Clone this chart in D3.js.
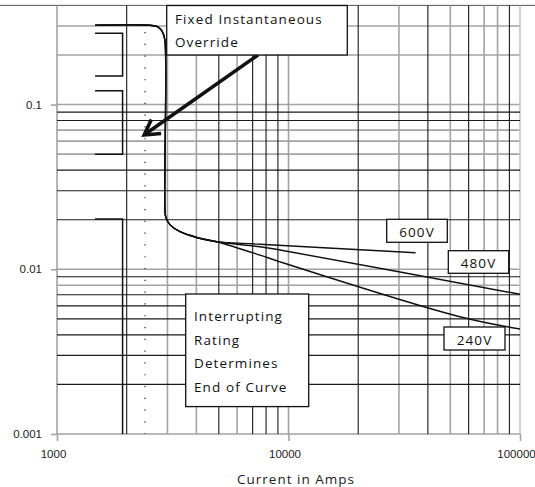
<!DOCTYPE html>
<html lang="en">
<head>
<meta charset="UTF-8" />
<script src="https://d3js.org/d3.v7.min.js"></script>
<title>Time-current curve</title>
<style>
  body { margin: 0; background: #fff; }
  svg { display: block; font-family: 'Open Sans', sans-serif; }
</style>
</head>
<body>
<svg width="535" height="487"></svg>
<script>
// ---- values ----
const xTicks = [1000, 10000, 100000];
const yTicks = [0.001, 0.01, 0.1];
const xGrid = [1000, 2000, 3000, 4000, 5000, 6000, 7000, 8000, 9000,
               10000, 20000, 30000, 40000, 50000, 60000, 70000, 80000, 90000, 100000];
const yGrid = [0.001, 0.002, 0.003, 0.004, 0.005, 0.006, 0.007, 0.008, 0.009,
               0.01, 0.02, 0.03, 0.04, 0.05, 0.06, 0.07, 0.08, 0.09, 0.1, 0.2, 0.3];

// shared part of the curve (amps, seconds)
const commonAmps = [1460, 2520, 2730, 2870, 2930, 2930, 2960, 3080, 3400, 4010, 4900];
const commonTime = [0.303, 0.303, 0.296, 0.272, 0.24, 0.022, 0.0205, 0.0186, 0.0169, 0.0156, 0.0147];

// voltage tails
const voltages = ['600V', '480V', '240V'];
const tailAmps = [
  [4900, 7530, 35400],
  [4900, 7530, 9190, 100000],
  [4900, 7530, 9190, 55000, 100000]
];
const tailTime = [
  [0.0147, 0.0142, 0.0126],
  [0.0147, 0.0137, 0.0131, 0.00705],
  [0.0147, 0.0122, 0.0111, 0.00515, 0.00434]
];

// tolerance brackets on the left
const bracketAmps = [1460, 1920];
const bracketTop = [0.271, 0.1215, 0.0202];
const bracketBottom = [0.149, 0.05, 0.001];

// dotted reference line
const dottedAmps = 2400;
const dottedTime = [0.276, 0.001];

// arrow (from, to) in amps / seconds
const arrowAmps = [7380, 2380];
const arrowTime = [0.2, 0.0654];

// ---- drawing ----
const svg = d3.select('svg');
const W = +svg.attr('width');

const x = d3.scaleLog().domain([1000, 100000]).range([57, 520]);
const y = d3.scaleLog().domain([0.001, 0.4]).range([434, 5.4]);

const greyX = new Set([1000, 3000, 4000, 6000, 10000, 30000, 50000, 70000, 80000, 100000]);
const greyY = new Set([0.001, 0.008, 0.01, 0.05, 0.06, 0.07, 0.1, 0.2, 0.3]);

// top border line
svg.append('line')
  .attr('x1', 0).attr('x2', W)
  .attr('y1', y(0.4)).attr('y2', y(0.4))
  .attr('stroke', '#555').attr('stroke-width', 1);

const grid = svg.append('g');
// grey grid first, dark grid over it
grid.selectAll('.gy')
  .data(yGrid.filter(d => greyY.has(d)))
  .join('line')
  .attr('x1', x(1000)).attr('x2', x(100000))
  .attr('y1', d => y(d)).attr('y2', d => y(d))
  .attr('stroke', '#a3a3a3').attr('stroke-width', 1.6);
grid.selectAll('.gx')
  .data(xGrid.filter(d => greyX.has(d)))
  .join('line')
  .attr('x1', d => x(d)).attr('x2', d => x(d))
  .attr('y1', y(0.4)).attr('y2', y(0.001))
  .attr('stroke', d => d === 100000 ? '#c4c4c4' : '#a3a3a3').attr('stroke-width', 1.6);

const dark = svg.append('g');
dark.selectAll('line.hy')
  .data(yGrid.filter(d => !greyY.has(d)))
  .join('line')
  .attr('class', 'hy')
  .attr('x1', x(1000)).attr('x2', x(100000))
  .attr('y1', d => y(d)).attr('y2', d => y(d))
  .attr('stroke', '#1a1a1a').attr('stroke-width', 1.1);
dark.selectAll('line.vx')
  .data(xGrid.filter(d => !greyX.has(d)))
  .join('line')
  .attr('class', 'vx')
  .attr('x1', d => x(d)).attr('x2', d => x(d))
  .attr('y1', y(0.4)).attr('y2', y(0.001))
  .attr('stroke', '#1a1a1a').attr('stroke-width', 1.1);

// axes
const yAxis = svg.append('g')
  .attr('transform', `translate(${x(1000)},0)`)
  .call(d3.axisLeft(y).tickValues(yTicks).tickFormat(d => String(d)).tickSize(6).tickPadding(9));
const xAxis = svg.append('g')
  .attr('transform', `translate(0,${y(0.001)})`)
  .call(d3.axisBottom(x).tickValues(xTicks).tickFormat(d => String(d)).tickSize(7).tickPadding(9));
[yAxis, xAxis].forEach(a => {
  a.select('.domain').remove();
  a.selectAll('line').attr('stroke', '#a3a3a3').attr('stroke-width', 1.6);
  a.selectAll('text').attr('font-size', 11.5).attr('fill', '#222');
});
xAxis.selectAll('text').attr('dx', -4);

svg.append('text')
  .attr('x', 296).attr('y', 484)
  .attr('text-anchor', 'middle')
  .attr('font-size', 13.5).attr('letter-spacing', 1)
  .attr('fill', '#222')
  .text('Current in Amps');

// brackets
const br = svg.append('g');
bracketTop.forEach((t, i) => {
  const x0 = x(bracketAmps[0]), x1 = x(bracketAmps[1]);
  let p = `M${x0},${y(t)}H${x1}V${y(bracketBottom[i])}`;
  if (bracketBottom[i] > 0.001) p += `H${x0}`;
  br.append('path').attr('d', p)
    .attr('fill', 'none').attr('stroke', '#111').attr('stroke-width', 1.5);
});

// dotted line
svg.append('line')
  .attr('x1', x(dottedAmps)).attr('x2', x(dottedAmps))
  .attr('y1', y(dottedTime[0])).attr('y2', y(dottedTime[1]))
  .attr('stroke', '#222').attr('stroke-width', 1.2)
  .attr('stroke-dasharray', '1.2,10.6');

// curves
const line = d3.line()
  .x(d => x(d[0])).y(d => y(d[1]))
  .curve(d3.curveCatmullRom.alpha(0.5));
voltages.forEach((v, i) => {
  const pts = commonAmps.map((a, j) => [a, commonTime[j]])
    .concat(tailAmps[i].slice(1).map((a, j) => [a, tailTime[i][j + 1]]));
  svg.append('path')
    .datum(pts)
    .attr('d', line)
    .attr('fill', 'none')
    .attr('stroke', '#111')
    .attr('stroke-width', 1.4);
});

// arrow
const ax0 = x(arrowAmps[0]), ay0 = y(arrowTime[0]);
const ax1 = x(arrowAmps[1]), ay1 = y(arrowTime[1]);
const ang = Math.atan2(ay1 - ay0, ax1 - ax0);
const head = 17, spread = Math.PI / 6;
const arm = s => [ax1 - head * Math.cos(ang + s), ay1 - head * Math.sin(ang + s)];
svg.append('line')
  .attr('x1', ax0).attr('y1', ay0)
  .attr('x2', ax1 - 2 * Math.cos(ang)).attr('y2', ay1 - 2 * Math.sin(ang))
  .attr('stroke', '#111').attr('stroke-width', 3.6);
svg.append('path')
  .attr('d', `M${arm(spread)}L${ax1},${ay1}L${arm(-spread)}`)
  .attr('fill', 'none').attr('stroke', '#111').attr('stroke-width', 3.6)
  .attr('stroke-linejoin', 'miter');

// annotation boxes
const boxes = [
  { x: 166.7, y: 5.5, w: 180.6, h: 49.5, tx: 175, lines: ['Fixed Instantaneous', 'Override'], base: [23.5, 47], anchor: 'start' },
  { x: 185.7, y: 294, w: 123, h: 112.6, tx: 194, lines: ['Interrupting', 'Rating', 'Determines', 'End of Curve'], base: [320.7, 344.6, 367.8, 391.7], anchor: 'start' },
  { x: 386.7, y: 219.3, w: 60.6, h: 23, tx: 417, lines: ['600V'], base: [236.5], anchor: 'middle' },
  { x: 448.3, y: 250.7, w: 60.4, h: 22.6, tx: 478.5, lines: ['480V'], base: [268.2], anchor: 'middle' },
  { x: 444, y: 327, w: 61, h: 23, tx: 474.5, lines: ['240V'], base: [345], anchor: 'middle' }
];
const bx = svg.selectAll('.box').data(boxes).join('g').attr('class', 'box');
bx.append('rect')
  .attr('x', d => d.x).attr('y', d => d.y)
  .attr('width', d => d.w).attr('height', d => d.h)
  .attr('fill', '#fff').attr('stroke', '#111').attr('stroke-width', 1.3);
bx.each(function (d) {
  d3.select(this).selectAll('text')
    .data(d.lines)
    .join('text')
    .attr('x', d.tx)
    .attr('y', (t, i) => d.base[i])
    .attr('text-anchor', d.anchor)
    .attr('font-size', 13.5)
    .attr('letter-spacing', 1.1)
    .attr('fill', '#111')
    .text(t => t);
});
</script>
</body>
</html>
